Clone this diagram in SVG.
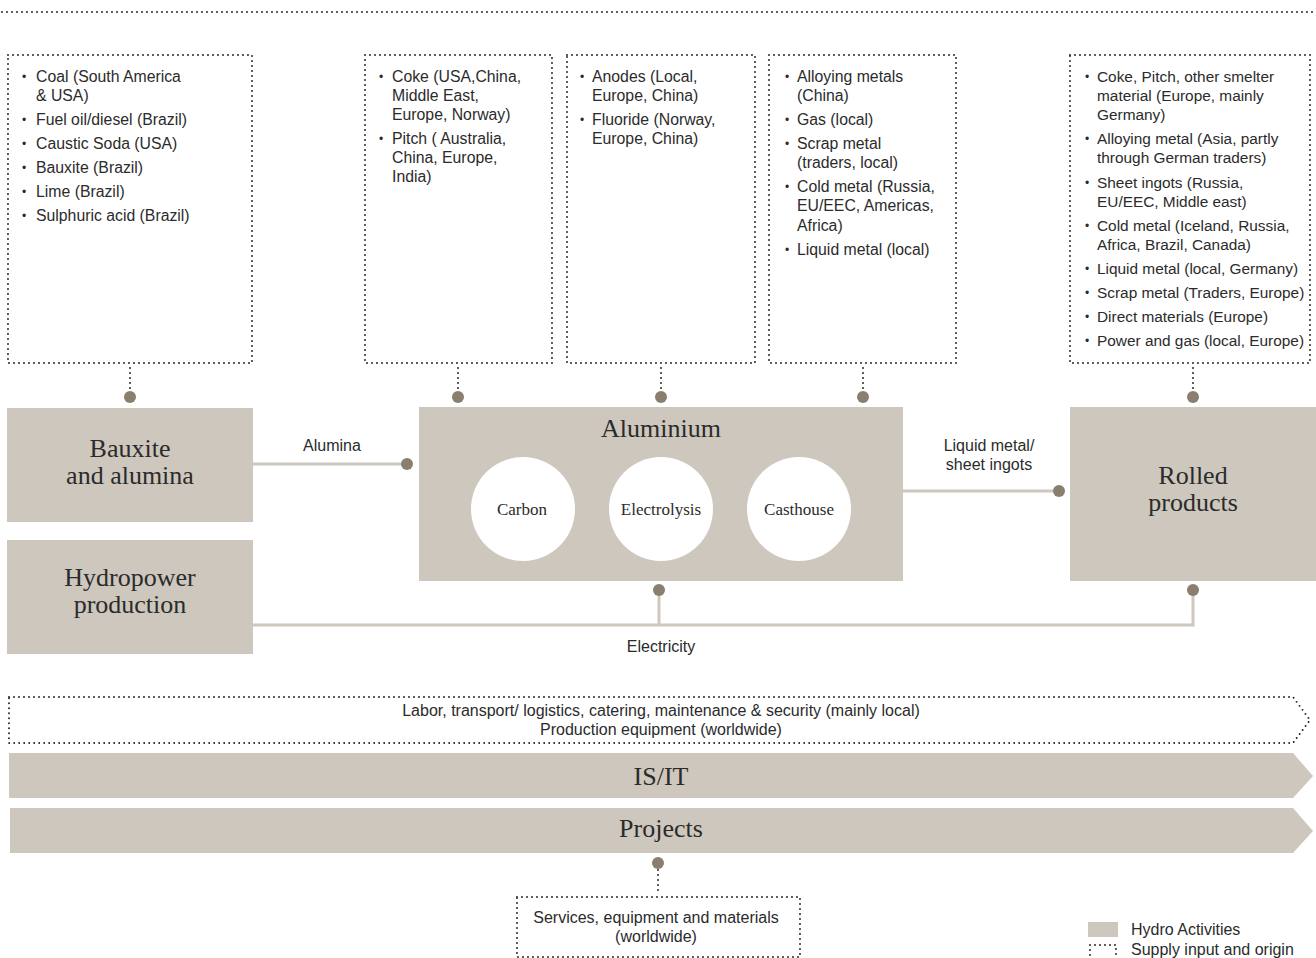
<svg xmlns="http://www.w3.org/2000/svg" width="1316" height="958" viewBox="0 0 1316 958">
<style>
.dotted{fill:none;stroke:#1e1e1e;stroke-width:1.9;stroke-dasharray:0 5;stroke-linecap:round}
.act{fill:#CEC7BD}
.conn{fill:none;stroke:#CEC7BD;stroke-width:3}
.dot{fill:#8A7F6E}
.sans{font-family:"Liberation Sans",Arial,sans-serif;font-size:16px;fill:#2b2b2b}
.box{font-size:15.8px}
.box5{font-size:15.4px}
.bul{font-family:"Liberation Sans",Arial,sans-serif;font-size:12px;fill:#2b2b2b}
.serif{font-family:"Liberation Serif","Times New Roman",serif;font-size:26px;fill:#2b2b2b;text-anchor:middle}
.small{font-family:"Liberation Serif","Times New Roman",serif;font-size:17px;fill:#2b2b2b;text-anchor:middle}
.mid{text-anchor:middle}
</style>
<rect width="1316" height="958" fill="#ffffff"/>
<line class="dotted" x1="2" y1="12" x2="1316" y2="12"/>

<g id="supply-bauxite">
<rect class="dotted" x="8" y="55" width="244" height="308"/>
<g class="bul"><text x="22" y="81">•</text><text x="22" y="124">•</text><text x="22" y="148">•</text><text x="22" y="172">•</text><text x="22" y="196">•</text><text x="22" y="220">•</text></g>
<g class="sans box">
<text x="36" y="82">Coal (South America</text>
<text x="36" y="101">&amp; USA)</text>
<text x="36" y="125">Fuel oil/diesel (Brazil)</text>
<text x="36" y="149">Caustic Soda (USA)</text>
<text x="36" y="173">Bauxite (Brazil)</text>
<text x="36" y="197">Lime (Brazil)</text>
<text x="36" y="221">Sulphuric acid (Brazil)</text>
</g>
</g>

<g id="supply-carbon">
<rect class="dotted" x="365" y="55" width="187" height="308"/>
<g class="bul"><text x="379" y="81">•</text><text x="379" y="143">•</text></g>
<g class="sans box">
<text x="392" y="82">Coke (USA,China,</text>
<text x="392" y="101">Middle East,</text>
<text x="392" y="120">Europe, Norway)</text>
<text x="392" y="144">Pitch ( Australia,</text>
<text x="392" y="163">China, Europe,</text>
<text x="392" y="182">India)</text>
</g>
</g>

<g id="supply-electrolysis">
<rect class="dotted" x="567" y="55" width="188" height="308"/>
<g class="bul"><text x="580" y="81">•</text><text x="580" y="124">•</text></g>
<g class="sans box">
<text x="592" y="82">Anodes (Local,</text>
<text x="592" y="101">Europe, China)</text>
<text x="592" y="125">Fluoride (Norway,</text>
<text x="592" y="144">Europe, China)</text>
</g>
</g>

<g id="supply-casthouse">
<rect class="dotted" x="769" y="55" width="187" height="308"/>
<g class="bul"><text x="785" y="81">•</text><text x="785" y="124">•</text><text x="785" y="148">•</text><text x="785" y="191">•</text><text x="785" y="254">•</text></g>
<g class="sans box">
<text x="797" y="82">Alloying metals</text>
<text x="797" y="101">(China)</text>
<text x="797" y="125">Gas (local)</text>
<text x="797" y="149">Scrap metal</text>
<text x="797" y="168">(traders, local)</text>
<text x="797" y="192">Cold metal (Russia,</text>
<text x="797" y="211">EU/EEC, Americas,</text>
<text x="797" y="231">Africa)</text>
<text x="797" y="255">Liquid metal (local)</text>
</g>
</g>

<g id="supply-rolled">
<rect class="dotted" x="1070" y="55" width="240" height="308"/>
<g class="bul"><text x="1085" y="81">•</text><text x="1085" y="143">•</text><text x="1085" y="187">•</text><text x="1085" y="230">•</text><text x="1085" y="273">•</text><text x="1085" y="297">•</text><text x="1085" y="321">•</text><text x="1085" y="345">•</text></g>
<g class="sans box5">
<text x="1097" y="82">Coke, Pitch, other smelter</text>
<text x="1097" y="101">material (Europe, mainly</text>
<text x="1097" y="120">Germany)</text>
<text x="1097" y="144">Alloying metal (Asia, partly</text>
<text x="1097" y="163">through German traders)</text>
<text x="1097" y="188">Sheet ingots (Russia,</text>
<text x="1097" y="207">EU/EEC, Middle east)</text>
<text x="1097" y="231">Cold metal (Iceland, Russia,</text>
<text x="1097" y="250">Africa, Brazil, Canada)</text>
<text x="1097" y="274">Liquid metal (local, Germany)</text>
<text x="1097" y="298">Scrap metal (Traders, Europe)</text>
<text x="1097" y="322">Direct materials (Europe)</text>
<text x="1097" y="346">Power and gas (local, Europe)</text>
</g>
</g>

<g id="bauxite">
<rect class="act" x="7" y="408" width="246" height="114"/>
<text class="serif" x="130" y="457">Bauxite</text>
<text class="serif" x="130" y="484">and alumina</text>
</g>

<g id="hydropower">
<rect class="act" x="7" y="540" width="246" height="114"/>
<text class="serif" x="130" y="586">Hydropower</text>
<text class="serif" x="130" y="613">production</text>
</g>

<g id="aluminium">
<rect class="act" x="419" y="407" width="484" height="174"/>
<text class="serif" x="661" y="437">Aluminium</text>
<circle cx="523" cy="509" r="52" fill="#ffffff"/>
<circle cx="661" cy="509" r="52" fill="#ffffff"/>
<circle cx="799" cy="509" r="52" fill="#ffffff"/>
<text class="small" x="522" y="515">Carbon</text>
<text class="small" x="661" y="515">Electrolysis</text>
<text class="small" x="799" y="515">Casthouse</text>
</g>

<g id="rolled">
<rect class="act" x="1070" y="407" width="246" height="174"/>
<text class="serif" x="1193" y="484">Rolled</text>
<text class="serif" x="1193" y="511">products</text>
</g>

<g id="connectors">
<line class="dotted" x1="130" y1="368" x2="130" y2="391"/>
<line class="dotted" x1="458" y1="368" x2="458" y2="391"/>
<line class="dotted" x1="661" y1="368" x2="661" y2="391"/>
<line class="dotted" x1="863" y1="368" x2="863" y2="391"/>
<line class="dotted" x1="1193" y1="368" x2="1193" y2="391"/>
<circle class="dot" cx="130" cy="397" r="6"/>
<circle class="dot" cx="458" cy="397" r="6"/>
<circle class="dot" cx="661" cy="397" r="6"/>
<circle class="dot" cx="863" cy="397" r="6"/>
<circle class="dot" cx="1193" cy="397" r="6"/>

<line class="conn" x1="253" y1="464" x2="407" y2="464"/>
<circle class="dot" cx="407" cy="464" r="6"/>
<text class="sans mid" x="332" y="451">Alumina</text>

<line class="conn" x1="903" y1="491" x2="1059" y2="491"/>
<circle class="dot" cx="1059" cy="491" r="6"/>
<text class="sans mid" x="989" y="451">Liquid metal/</text>
<text class="sans mid" x="989" y="470">sheet ingots</text>

<polyline class="conn" points="253,625 1193,625 1193,590"/>
<line class="conn" x1="659" y1="625" x2="659" y2="590"/>
<circle class="dot" cx="659" cy="590" r="6"/>
<circle class="dot" cx="1193" cy="590" r="6"/>
<text class="sans mid" x="661" y="652">Electricity</text>

<circle class="dot" cx="658" cy="863" r="6"/>
<line class="dotted" x1="658" y1="870" x2="658" y2="894"/>
</g>

<g id="labor">
<path class="dotted" d="M9,697 L1293,697 L1310,720 L1293,743 L9,743 Z"/>
<text class="sans mid" x="661" y="716">Labor, transport/ logistics, catering, maintenance &amp; security (mainly local)</text>
<text class="sans mid" x="661" y="735">Production equipment (worldwide)</text>
</g>

<g id="isit">
<path class="act" d="M9,753 L1293,753 L1313,776 L1293,798 L9,798 Z"/>
<text class="serif" x="661" y="785">IS/IT</text>
</g>

<g id="projects">
<path class="act" d="M10,808 L1293,808 L1313,831 L1293,853 L10,853 Z"/>
<text class="serif" x="661" y="837">Projects</text>
</g>

<g id="services">
<rect class="dotted" x="517" y="897" width="283" height="60"/>
<text class="sans mid" x="656" y="923">Services, equipment and materials</text>
<text class="sans mid" x="656" y="942">(worldwide)</text>
</g>

<g id="legend">
<rect class="act" x="1088" y="922" width="30" height="15"/>
<text class="sans" x="1131" y="935">Hydro Activities</text>
<rect class="dotted" x="1090" y="945" width="26" height="14"/>
<text class="sans" x="1131" y="955">Supply input and origin</text>
</g>
</svg>
